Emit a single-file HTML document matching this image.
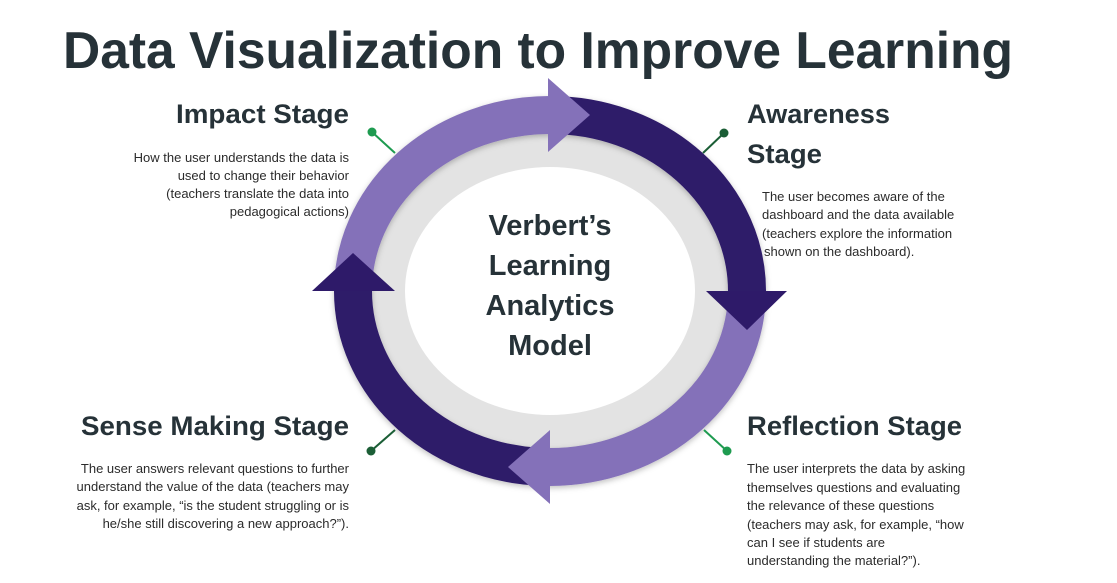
<!DOCTYPE html>
<html><head><meta charset="utf-8"><style>
html,body{margin:0;padding:0;background:#fff;}
svg{display:block;}
text{font-family:"Liberation Sans",Arial,sans-serif;}
.h{font-weight:bold;font-size:27px;fill:#263238;}
.b{font-size:13px;fill:#2b2b2b;}
.c{font-weight:bold;font-size:29px;fill:#263238;}
</style></head><body>
<svg width="1117" height="583" viewBox="0 0 1117 583">
<defs><filter id="sh" x="-10%" y="-10%" width="120%" height="120%"><feDropShadow dx="0" dy="2" stdDeviation="3" flood-color="#000" flood-opacity="0.25"/></filter></defs>
<text x="538" y="68" text-anchor="middle" font-weight="bold" font-size="52" fill="#263238" textLength="950" lengthAdjust="spacingAndGlyphs">Data Visualization to Improve Learning</text>

<ellipse cx="550" cy="291" rx="182" ry="160" fill="#e3e3e3"/>
<ellipse cx="550" cy="291" rx="145" ry="124" fill="#fff"/>

<g fill="none" stroke-width="38" filter="url(#sh)">
<path d="M353,291 A197,176 0 0 1 550,115" stroke="#8471b9"/>
<path d="M550,115 A197,176 0 0 1 747,291" stroke="#2e1a69"/>
<path d="M747,291 A197,176 0 0 1 550,467" stroke="#8471b9"/>
<path d="M550,467 A197,176 0 0 1 353,291" stroke="#2e1a69"/>
</g>
<polygon points="548,78 548,152 590,115" fill="#8471b9"/>
<polygon points="706,291 787,291 747,330" fill="#2e1a69"/>
<polygon points="550,430 550,504 508,467" fill="#8471b9"/>
<polygon points="312,291 395,291 353,253" fill="#2e1a69"/>

<g class="c" text-anchor="middle">
<text x="550" y="235">Verbert’s</text>
<text x="550" y="275">Learning</text>
<text x="550" y="315">Analytics</text>
<text x="550" y="355">Model</text>
</g>

<g stroke-width="2">
<line x1="372" y1="132" x2="395" y2="153" stroke="#1e9b50"/>
<circle cx="372" cy="132" r="4.5" fill="#1e9b50"/>
<line x1="724" y1="133" x2="703" y2="153" stroke="#1b5e36"/>
<circle cx="724" cy="133" r="4.5" fill="#1b5e36"/>
<line x1="371" y1="451" x2="395" y2="430" stroke="#1b5e36"/>
<circle cx="371" cy="451" r="4.5" fill="#1b5e36"/>
<line x1="727" y1="451" x2="704" y2="430" stroke="#1e9b50"/>
<circle cx="727" cy="451" r="4.5" fill="#1e9b50"/>
</g>

<text class="h" x="349" y="123" text-anchor="end" textLength="173" lengthAdjust="spacingAndGlyphs">Impact Stage</text>
<g class="b" text-anchor="end">
<text x="349" y="162">How the user understands the data is</text>
<text x="349" y="180">used to change their behavior</text>
<text x="349" y="198">(teachers translate the data into</text>
<text x="349" y="216">pedagogical actions)</text>
</g>

<text class="h" x="747" y="123" textLength="143" lengthAdjust="spacingAndGlyphs">Awareness</text>
<text class="h" x="747" y="163" textLength="75" lengthAdjust="spacingAndGlyphs">Stage</text>
<g class="b">
<text x="762" y="201">The user becomes aware of the</text>
<text x="762" y="219">dashboard and the data available</text>
<text x="762" y="238">(teachers explore the information</text>
<text x="764" y="256">shown on the dashboard).</text>
</g>

<text class="h" x="349" y="435" text-anchor="end" textLength="268" lengthAdjust="spacingAndGlyphs">Sense Making Stage</text>
<g class="b" text-anchor="end">
<text x="349" y="473">The user answers relevant questions to further</text>
<text x="349" y="491">understand the value of the data (teachers may</text>
<text x="349" y="510">ask, for example, “is the student struggling or is</text>
<text x="349" y="528">he/she still discovering  a new approach?”).</text>
</g>

<text class="h" x="747" y="435" textLength="215" lengthAdjust="spacingAndGlyphs">Reflection Stage</text>
<g class="b">
<text x="747" y="473">The user interprets the data by asking</text>
<text x="747" y="492">themselves questions and evaluating</text>
<text x="747" y="510">the relevance of these questions</text>
<text x="747" y="529">(teachers may ask, for example, “how</text>
<text x="747" y="547">can I see if students are</text>
<text x="747" y="565">understanding the material?”).</text>
</g>
</svg>
</body></html>
